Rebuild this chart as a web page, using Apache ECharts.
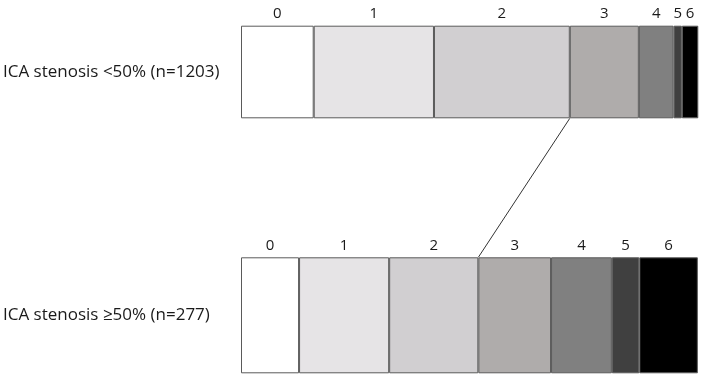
<!DOCTYPE html>
<html><head><meta charset="utf-8">
<script src="https://cdn.jsdelivr.net/npm/echarts@6/dist/echarts.min.js"></script>
<style>html,body{margin:0;padding:0;background:#fff;}#c{width:709px;height:375px;}</style>
</head><body><div id="c"></div>
<script>
var scores = ['0','1','2','3','4','5','6'];
var groups = ['ICA stenosis <50% (n=1203)', 'ICA stenosis \u226550% (n=277)'];
var lowStenosis = [15.9, 26.3, 29.7, 15.1, 7.6, 1.8, 3.6];
var highStenosis = [12.7, 19.7, 19.5, 15.9, 13.3, 6.0, 12.8];
var colors = ['#ffffff', '#e6e4e6', '#d1cfd1', '#afacab', '#808080', '#404040', '#000000'];

var chart = echarts.init(document.getElementById('c'));
var fontFam = '"Open Sans", "Noto Sans", sans-serif';
var grids = [
  {left: 240, right: 10.7, top: 25.7, height: 92.6},
  {left: 240, right: 10.7, top: 257.3, height: 116}
];
var series = [];
[lowStenosis, highStenosis].forEach(function (vals, gi) {
  scores.forEach(function (s, i) {
    series.push({
      type: 'bar', name: s, stack: 'g' + gi,
      xAxisIndex: gi, yAxisIndex: gi,
      barWidth: '100%',
      data: [vals[i]],
      itemStyle: {color: colors[i], borderColor: '#5a5a5a', borderWidth: 1},
      label: {show: true, position: 'top', distance: 4, formatter: s,
              color: '#1a1a1a', fontSize: 15, fontFamily: fontFam},
      emphasis: {disabled: true},
      animation: false
    });
  });
});
chart.setOption({
  animation: false,
  grid: grids,
  xAxis: [0, 1].map(function (gi) {
    return {type: 'value', gridIndex: gi, min: 0, max: 100, show: false};
  }),
  yAxis: [0, 1].map(function (gi) {
    return {type: 'category', gridIndex: gi, data: [groups[gi]],
      axisLine: {show: false}, axisTick: {show: false}, splitLine: {show: false},
      axisLabel: {show: true, margin: 238, align: 'left', color: '#1a1a1a',
                  fontSize: 17, fontFamily: fontFam}};
  }),
  series: series
});
function cum(arr, n) { var s = 0; for (var i = 0; i < n; i++) s += arr[i]; return s; }
var x1 = chart.convertToPixel({xAxisIndex: 0}, cum(lowStenosis, 3));
var x2 = chart.convertToPixel({xAxisIndex: 1}, cum(highStenosis, 3));
chart.setOption({
  graphic: [{type: 'line', silent: true,
    shape: {x1: x1, y1: grids[0].top + grids[0].height, x2: x2, y2: grids[1].top},
    style: {stroke: '#333', lineWidth: 1}}]
});
</script></body></html>
